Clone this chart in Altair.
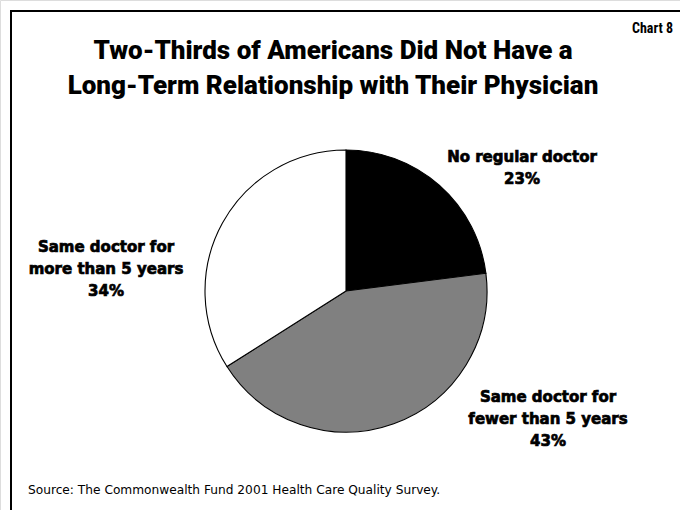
import altair as alt
import pandas as pd

categories = ["No regular doctor", "Same doctor for fewer than 5 years", "Same doctor for more than 5 years"]
values = [23, 43, 34]
colors = ["#000000", "#808080", "#ffffff"]

label_lines = [
    ["No regular doctor", "23%"],
    ["Same doctor for", "fewer than 5 years", "43%"],
    ["Same doctor for", "more than 5 years", "34%"],
]
title_lines = ["Two-Thirds of Americans Did Not Have a", "Long-Term Relationship with Their Physician"]
source_text = "Source: The Commonwealth Fund 2001 Health Care Quality Survey."
chart_tag = "Chart 8"

df = pd.DataFrame({"category": categories, "value": values, "order": [0, 1, 2]})

W, H = 680, 510
CX, CY, R = 346, 291, 141

pie = alt.Chart(df).mark_arc(stroke="black", strokeWidth=1.1, outerRadius=R).encode(
    theta=alt.Theta("value:Q", stack=True),
    order=alt.Order("order:Q"),
    color=alt.Color("category:N", scale=alt.Scale(domain=categories, range=colors), legend=None),
    x=alt.value(CX),
    y=alt.value(CY),
)

label_pos = [(522, 162), (548, 402), (106, 252)]
layers = [pie]
for lines, (lx, ly) in zip(label_lines, label_pos):
    t = alt.Chart(pd.DataFrame({"t": [lines]})).mark_text(
        font="DejaVu Sans", fontWeight="bold", fontSize=15, align="center", baseline="alphabetic",
        lineHeight=22, color="black", stroke="black", strokeWidth=0.7
    ).encode(text="t:N", x=alt.value(lx), y=alt.value(ly))
    layers.append(t)

title = alt.Chart(pd.DataFrame({"t": [title_lines]})).mark_text(
    font="Roboto", fontWeight=900, fontSize=26, align="center",
    baseline="alphabetic", lineHeight=35, color="black"
).encode(text="t:N", x=alt.value(333), y=alt.value(59))
layers.append(title)

tag = alt.Chart(pd.DataFrame({"t": [chart_tag]})).mark_text(
    font="Roboto Condensed", fontWeight="bold", fontSize=14, align="right",
    baseline="alphabetic", color="black"
).encode(text="t:N", x=alt.value(673), y=alt.value(33))
layers.append(tag)

src = alt.Chart(pd.DataFrame({"t": [source_text]})).mark_text(
    font="DejaVu Sans", fontSize=12.2, align="left", baseline="alphabetic", color="black"
).encode(text="t:N", x=alt.value(28), y=alt.value(494))
layers.append(src)

border_top = alt.Chart(pd.DataFrame({"a": [0]})).mark_rule(color="black", strokeWidth=2).encode(
    x=alt.value(10), x2=alt.value(680), y=alt.value(11))
border_left = alt.Chart(pd.DataFrame({"a": [0]})).mark_rule(color="black", strokeWidth=2).encode(
    x=alt.value(11), y=alt.value(10), y2=alt.value(510))
layers += [border_top, border_left]

chart = alt.layer(*layers).properties(
    width=W, height=H, autosize=alt.AutoSizeParams(type="none"), padding=0
).configure_view(stroke=None).configure(background="white")

chart.save("out.html", embed_options={"renderer": "svg", "actions": False})
